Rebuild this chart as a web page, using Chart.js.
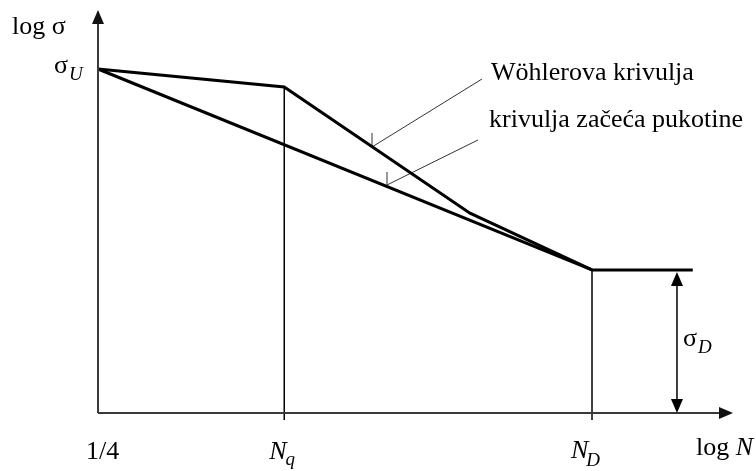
<!DOCTYPE html>
<html>
<head>
<meta charset="utf-8">
<script src="https://cdn.jsdelivr.net/npm/chart.js@4"></script>
<style>
  html, body { margin: 0; padding: 0; background: #fff; }
  canvas { display: block; }
</style>
</head>
<body>
<canvas id="chart" width="756" height="471"></canvas>
<script>
// axis values (log N, log sigma) in schematic units
const N_Q = 3.77;
const N_D = 10;
const SIGMA_U = 10;
const SIGMA_D = 4.16;
const X_MAX = 12.854;
const Y_MAX = 11.715;

// Wöhler curve and crack initiation curve
const wohlerX = [0, N_Q, 7.53, N_D, 12.04];
const wohlerY = [SIGMA_U, 9.48, 5.81, SIGMA_D, SIGMA_D];
const crackX = [0, N_D];
const crackY = [SIGMA_U, SIGMA_D];

// leader lines for the two labels: [x0, y0, x1, y1], plus the small tick above the curve
const wohlerLeader = [5.547, 7.733, 7.773, 9.709];
const wohlerTickTop = 8.14;
const crackLeader = [5.85, 6.628, 7.692, 7.936];
const crackTickTop = 7.006;

// x position of the sigma_D double arrow
const sigmaDArrowX = 11.72;

const curveLabels = ['Wöhlerova krivulja', 'krivulja začeća pukotine'];

const pts = (xs, ys) => xs.map((x, i) => ({ x, y: ys[i] }));

const line = (data, width, color) => ({
  data,
  showLine: true,
  borderColor: color || '#000',
  borderWidth: width,
  pointRadius: 0,
  tension: 0,
  borderJoinStyle: 'miter',
  clip: false,
});

const SERIF = '"Liberation Serif", "Times New Roman", serif';
const BIG = 26;
const SUB = 19;

function arrowHead(ctx, x, y, dx, dy, len, half) {
  // tip at (x, y), pointing in direction (dx, dy)
  ctx.beginPath();
  ctx.moveTo(x, y);
  ctx.lineTo(x - dx * len - dy * half, y - dy * len + dx * half);
  ctx.lineTo(x - dx * len + dy * half, y - dy * len - dx * half);
  ctx.closePath();
  ctx.fill();
}

function text(ctx, str, x, y, size, italic) {
  ctx.font = (italic ? 'italic ' : '') + size + 'px ' + SERIF;
  ctx.fillText(str, x, y);
  return ctx.measureText(str).width;
}

const decorations = {
  id: 'decorations',
  afterDatasetsDraw(chart) {
    const { ctx, chartArea: a, scales: { x, y } } = chart;
    ctx.save();

    // axes with arrows
    ctx.strokeStyle = '#3a3a3a';
    ctx.fillStyle = '#111';
    ctx.lineWidth = 2;
    ctx.beginPath();
    ctx.moveTo(a.left, a.bottom);
    ctx.lineTo(a.left, a.top + 8);
    ctx.moveTo(a.left, a.bottom);
    ctx.lineTo(a.right - 8, a.bottom);
    ctx.stroke();
    arrowHead(ctx, a.left, a.top, 0, -1, 14, 6);
    arrowHead(ctx, a.right, a.bottom, 1, 0, 14, 6);

    // sigma_D double arrow
    const ax = x.getPixelForValue(sigmaDArrowX);
    const yTop = y.getPixelForValue(SIGMA_D) + 2;
    const yBot = y.getPixelForValue(0);
    ctx.strokeStyle = '#000';
    ctx.fillStyle = '#000';
    ctx.lineWidth = 1.5;
    ctx.beginPath();
    ctx.moveTo(ax, yTop + 10);
    ctx.lineTo(ax, yBot - 10);
    ctx.stroke();
    arrowHead(ctx, ax, yTop, 0, -1, 14, 6);
    arrowHead(ctx, ax, yBot, 0, 1, 14, 6);

    // texts
    ctx.fillStyle = '#000';
    ctx.textBaseline = 'alphabetic';
    ctx.textAlign = 'left';

    text(ctx, 'log σ', 12, 34, BIG, false);

    const uy = y.getPixelForValue(SIGMA_U);
    let w = text(ctx, 'σ', 54, uy + 4, BIG, false);
    text(ctx, 'U', 54 + w + 1, uy + 11, SUB, true);

    const by = y.getPixelForValue(0);
    text(ctx, '1/4', x.getPixelForValue(0) - 12, by + 46, BIG, false);

    let nx = x.getPixelForValue(N_Q) - 15;
    w = text(ctx, 'N', nx, by + 46, BIG, true);
    text(ctx, 'q', nx + w - 1, by + 52, SUB, true);

    nx = x.getPixelForValue(N_D) - 21;
    w = text(ctx, 'N', nx, by + 45, BIG, true);
    text(ctx, 'D', nx + w - 2, by + 53, SUB, true);

    w = text(ctx, 'log ', 696, by + 42, BIG, false);
    text(ctx, 'N', 696 + w, by + 42, BIG, true);

    const sy = y.getPixelForValue(SIGMA_D / 2);
    w = text(ctx, 'σ', ax + 6, sy + 5, BIG, false);
    text(ctx, 'D', ax + 6 + w + 1, sy + 12, SUB, true);

    text(ctx, curveLabels[0], 491, 80, BIG, false);
    text(ctx, curveLabels[1], 489, 127, BIG, false);

    ctx.restore();
  },
};

new Chart(document.getElementById('chart'), {
  type: 'scatter',
  data: {
    datasets: [
      line(pts(wohlerX, wohlerY), 3),
      line(pts(crackX, crackY), 3),
      line(pts([N_Q, N_Q], [-0.2, wohlerY[1]]), 1.5),
      line(pts([N_D, N_D], [-0.2, SIGMA_D]), 1.5),
      line(pts([wohlerLeader[0], wohlerLeader[2]], [wohlerLeader[1], wohlerLeader[3]]), 1, '#333'),
      line(pts([wohlerLeader[0], wohlerLeader[0]], [wohlerLeader[1], wohlerTickTop]), 1, '#333'),
      line(pts([crackLeader[0], crackLeader[2]], [crackLeader[1], crackLeader[3]]), 1, '#333'),
      line(pts([crackLeader[0], crackLeader[0]], [crackLeader[1], crackTickTop]), 1, '#333'),
    ],
  },
  options: {
    responsive: false,
    animation: false,
    layout: { padding: { left: 98, right: 23, top: 10, bottom: 58 } },
    plugins: {
      legend: { display: false },
      tooltip: { enabled: false },
    },
    scales: {
      x: { type: 'linear', display: false, min: 0, max: X_MAX },
      y: { type: 'linear', display: false, min: 0, max: Y_MAX },
    },
  },
  plugins: [decorations],
});
</script>
</body>
</html>
